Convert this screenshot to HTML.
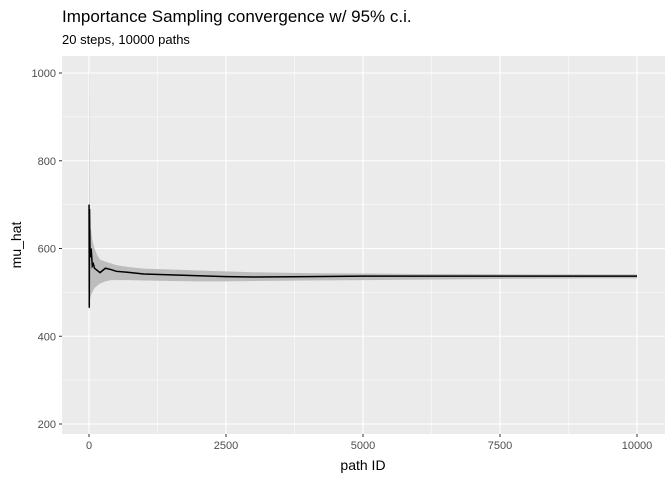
<!DOCTYPE html>
<html><head><meta charset="utf-8"><style>
body{margin:0;background:#fff;font-family:"Liberation Sans",sans-serif}
</style></head><body>
<svg width="672" height="480" xmlns="http://www.w3.org/2000/svg">
<text x="62" y="22" font-size="17" fill="#000">Importance Sampling convergence w/ 95% c.i.</text>
<text x="62" y="44" font-size="13" fill="#000">20 steps, 10000 paths</text>
<rect x="62" y="56" width="603" height="378" fill="#ebebeb"/>
<g id="grid"></g>
<g id="marks"></g>
<g id="axes"></g>
<text x="363" y="470" font-size="14" text-anchor="middle">path ID</text>
<text transform="translate(21,245) rotate(-90)" font-size="14" text-anchor="middle">mu_hat</text>
</svg>
<script>
const ids=[1,5,10,20,40,60,80,100,150,200,300,400,500,700,1000,1500,2000,2500,3000,4000,5000,6000,7000,8000,9000,10000];
const mu=[700,465,690,580,600,560,565,555,550,545,555,552,548,546,542,540,538,536,535,536,537,537,537,537,537,537];
const hi=[1000,1000,720,650,640,620,610,600,585,575,570,566,562,558,554,552,550,548,546,544,543,542,542,541,541,541];
const lo=[460,460,465,485,495,500,505,510,515,520,525,528,528,528,527,526,525,525,526,527,528,529,530,531,532,532];
const xTicks=[0,2500,5000,7500,10000];
const yTicks=[200,400,600,800,1000];
const NS="http://www.w3.org/2000/svg";
const X=v=>89+v*0.0548;
const Y=v=>73+(1000-v)*0.43875;
function mk(p,t,a){const e=document.createElementNS(NS,t);for(const k in a)e.setAttribute(k,a[k]);p.appendChild(e);return e;}
const grid=document.getElementById('grid'),marks=document.getElementById('marks'),axes=document.getElementById('axes');
for(let i=0;i<yTicks.length;i++){
 const y=Y(yTicks[i]);
 const g=mk(grid,'line',{x1:62,x2:665,y1:y,y2:y,stroke:'#fff','stroke-width':1.1});
 
 
 if(i<yTicks.length-1){const m=Y((yTicks[i]+yTicks[i+1])/2);
  const gm=mk(grid,'line',{x1:62,x2:665,y1:m,y2:m,stroke:'#fff','stroke-width':0.5});
  
  }
 mk(axes,'line',{x1:59,x2:62,y1:y,y2:y,stroke:'#333'});
 const t=mk(axes,'text',{x:56,y:y+4,'font-size':11,'text-anchor':'end',fill:'#4d4d4d'});t.textContent=yTicks[i];
 
 
}
for(let i=0;i<xTicks.length;i++){
 const x=X(xTicks[i]);
 const g=mk(grid,'line',{x1:x,x2:x,y1:56,y2:434,stroke:'#fff','stroke-width':1.1});
 
 
 if(i<xTicks.length-1){const m=X((xTicks[i]+xTicks[i+1])/2);
  const gm=mk(grid,'line',{x1:m,x2:m,y1:56,y2:434,stroke:'#fff','stroke-width':0.5});
  
  }
 mk(axes,'line',{x1:x,x2:x,y1:434,y2:437,stroke:'#333'});
 const t=mk(axes,'text',{x:x,y:449,'font-size':11,'text-anchor':'middle',fill:'#4d4d4d'});t.textContent=xTicks[i];
 
 
}
let pts=ids.map((d,i)=>X(d)+','+Y(hi[i]));
for(let i=ids.length-1;i>=0;i--)pts.push(X(ids[i])+','+Y(lo[i]));
const rib=mk(marks,'polygon',{points:pts.join(' '),fill:'#bdbdbd'});


const ln=mk(marks,'polyline',{points:ids.map((d,i)=>X(d)+','+Y(mu[i])).join(' '),fill:'none',stroke:'#000','stroke-width':1.5});


</script>
</body></html>
